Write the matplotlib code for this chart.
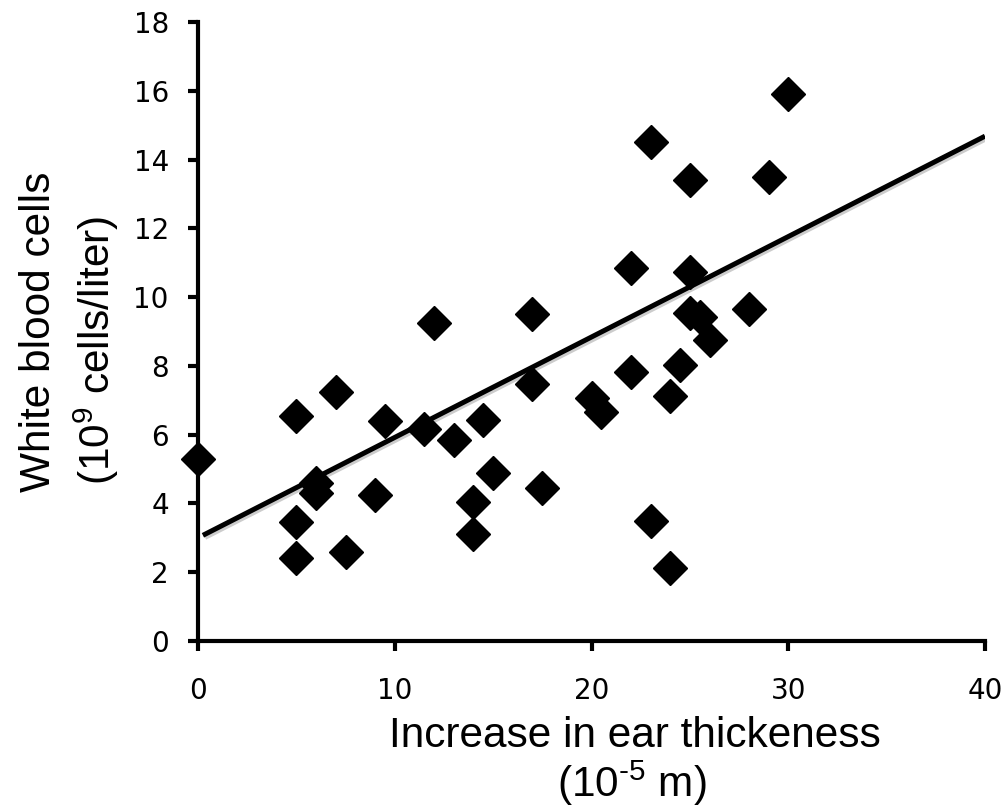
import matplotlib
matplotlib.use("Agg")
import matplotlib.pyplot as plt
import matplotlib.patheffects as pe
import numpy as np

# ear thickness increase (10^-5 m) and white blood cell count (10^9 cells/liter)
ear_thickness = [0, 5, 5, 5, 6, 6, 7, 7.5, 9, 9.5, 11.5, 12, 13, 14, 14, 14.5,
                 15, 17, 17, 17.5, 20, 20.5, 22, 22, 23, 23, 24, 24, 24.5, 25,
                 25, 25, 25.5, 26, 28, 29, 30]
wbc = [5.3, 6.55, 3.47, 2.4, 4.59, 4.29, 7.25, 2.58, 4.24, 6.4, 6.16, 9.24,
       5.84, 4.05, 3.11, 6.43, 4.88, 9.5, 7.46, 4.46, 7.06, 6.67, 10.86, 7.83,
       14.5, 3.49, 7.12, 2.13, 8.02, 13.4, 10.74, 9.53, 9.43, 8.75, 9.65,
       13.5, 15.9]

# trend line as shown in the chart
trend_slope = 0.292
trend_intercept = 3.0

x_ticks = [0, 10, 20, 30, 40]
y_ticks = [0, 2, 4, 6, 8, 10, 12, 14, 16, 18]

plt.rcParams["mathtext.fontset"] = "custom"
plt.rcParams["mathtext.rm"] = "Liberation Sans"
plt.rcParams["mathtext.it"] = "Liberation Sans:italic"

W, H = 1006, 809
fig = plt.figure(figsize=(W / 100, H / 100), dpi=100)
ax = fig.add_axes([198 / W, 1 - 641 / H, (985 - 198) / W, (641 - 22) / H])

xs = np.array([0.25, 40])
ax.plot(xs, trend_slope * xs + trend_intercept, color="black", lw=3.6,
        solid_capstyle="butt", zorder=3,
        path_effects=[pe.SimpleLineShadow(offset=(1.5, -1.5), shadow_color="gray", alpha=0.4),
                      pe.Normal()])

ax.plot(ear_thickness, wbc, linestyle="none", marker="D", markersize=17,
        color="black", zorder=4, clip_on=False)

ax.set_xlim(0, 40)
ax.set_ylim(0, 18)
ax.set_xticks(x_ticks)
ax.set_yticks(y_ticks)

for side in ["top", "right"]:
    ax.spines[side].set_visible(False)
for side in ["left", "bottom"]:
    ax.spines[side].set_linewidth(3)

ax.tick_params(axis="both", direction="out", length=7, width=3, labelsize=20,
               colors="black")
ax.tick_params(axis="x", pad=19)
ax.tick_params(axis="y", pad=14)
for lab in ax.get_xticklabels() + ax.get_yticklabels():
    lab.set_fontfamily("DejaVu Sans")

lab_kw = dict(fontsize=30.5, family="Liberation Sans", color="black")
fig.text(635 / W, 1 - 747 / H, "Increase in ear thickeness",
         ha="center", va="baseline", **lab_kw)
fig.text(632 / W, 1 - 797 / H, "(10$^{\\text{-5}}$ m)",
         ha="center", va="baseline", **lab_kw)
fig.text(50 / W, 1 - 332 / H, "White blood cells", rotation=90,
         rotation_mode="anchor", ha="center", va="baseline", **lab_kw)
fig.text(110 / W, 1 - 350 / H, "(10$^{9}$ cells/liter)", rotation=90,
         rotation_mode="anchor", ha="center", va="baseline", **lab_kw)

fig.savefig("out.png", dpi=100)
